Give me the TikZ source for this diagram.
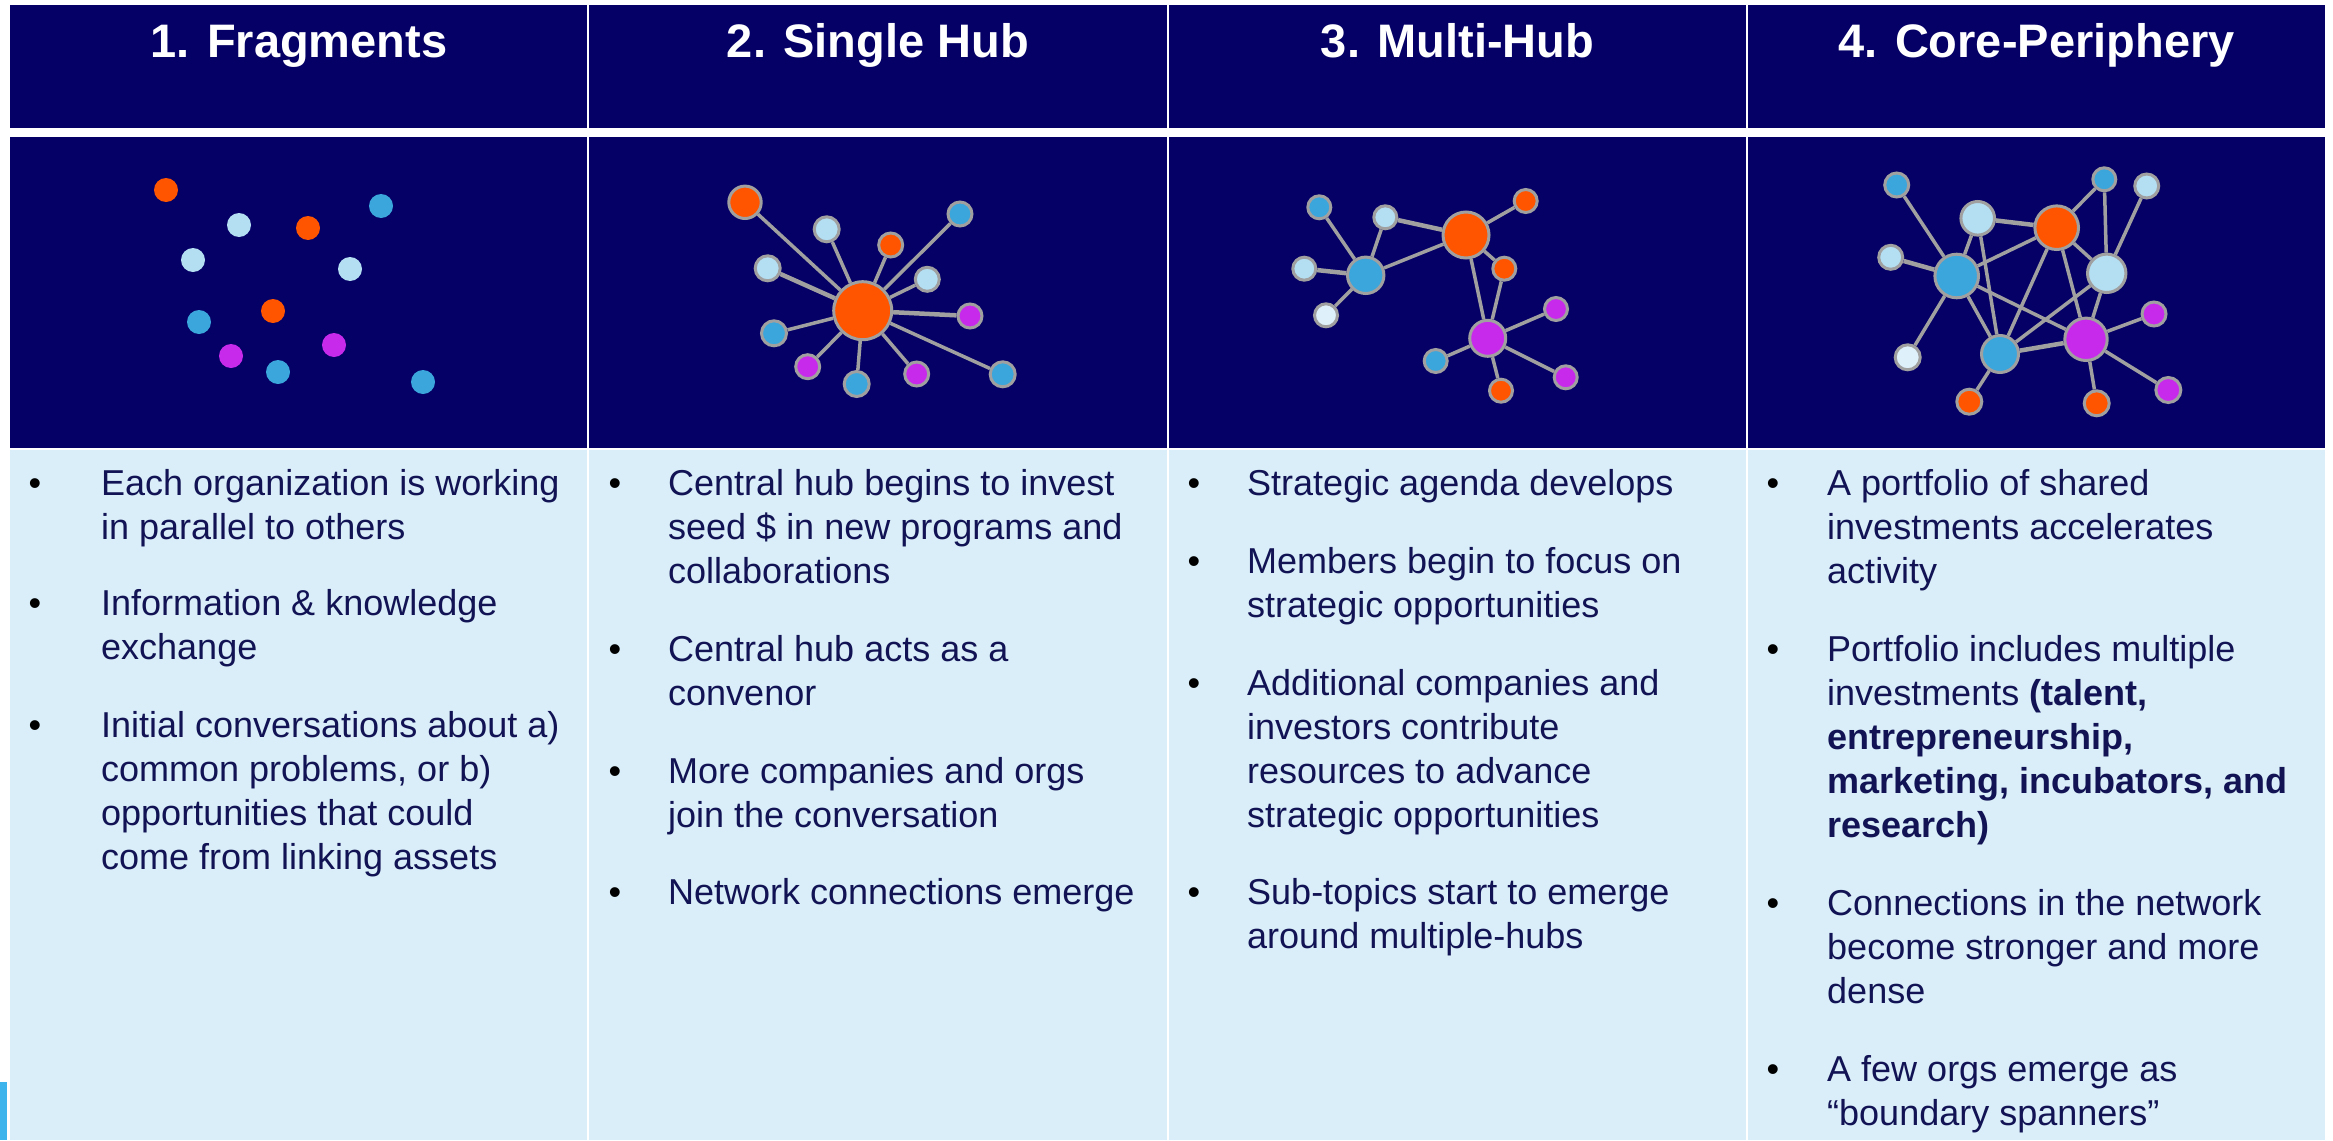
\documentclass[tikz,border=0pt]{standalone}
\usepackage{fontspec}
\setmainfont{Liberation Sans}
\definecolor{navy}{RGB}{5,0,102}
\definecolor{pale}{RGB}{217,238,248}
\definecolor{txt}{RGB}{17,19,84}
\definecolor{orng}{RGB}{255,85,0}
\definecolor{blu}{RGB}{58,166,220}
\definecolor{lblu}{RGB}{180,222,242}
\definecolor{mag}{RGB}{200,42,236}
\definecolor{wht}{RGB}{222,240,250}
\definecolor{gry}{RGB}{160,160,160}
\definecolor{cyanlogo}{RGB}{62,180,236}
\pgfdeclarelayer{back}
\pgfdeclarelayer{edges}
\pgfsetlayers{back,edges,main}
\newcommand\bpara[5]{%
  \node[bul] (#1b) at (#2,#4) {•};
  \foreach \bline [count=\k from 0] in {#5}{\node[body] (#1l\k) at (#3,{#4+44*\k}) {\bline};}%
}
\begin{document}
\begin{tikzpicture}[x=1pt,y=-1pt,
  head/.style={font=\fontsize{47}{54}\selectfont\bfseries, text=white, anchor=base, inner sep=0pt},
  body/.style={font=\fontsize{36}{44}\selectfont, text=txt, anchor=base west, inner sep=0pt},
  bul/.style={font=\fontsize{36}{44}\selectfont, text=black, anchor=base, inner sep=0pt},
  nd/.style={circle, draw=gry, line width=3pt, inner sep=0pt},
  dotnd/.style={circle, inner sep=0pt, minimum size=24},
  edge/.style={draw=gry, line width=3.5pt},
  thickedge/.style={draw=gry, line width=4.5pt}]
\useasboundingbox (0,0) rectangle (2333,1140);
\begin{pgfonlayer}{back}
  \fill[white] (0,0) rectangle (2333,1140);
  \foreach \xa/\xb in {10/587,589/1167,1169/1746,1748/2325}{
    \fill[navy] (\xa,5) rectangle (\xb,128);
    \fill[navy] (\xa,137) rectangle (\xb,448);
    \fill[pale] (\xa,450) rectangle (\xb,1140);
  }
  \fill[cyanlogo] (0,1082) rectangle (6.5,1140);
\end{pgfonlayer}

% headers
\node[head] (h1) at (299,58) {1. Fragments};
\node[head] (h2) at (878,58) {2. Single Hub};
\node[head] (h3) at (1457.5,58) {3. Multi-Hub};
\node[head] (h4) at (2036.5,58) {4. Core-Periphery};

% panel 1: fragments
\foreach \n/\c/\x/\y in {a1/orng/166/190, a2/lblu/239/225, a3/orng/308/228, a4/blu/381/206,
  a5/lblu/193/260, a6/lblu/350/269, a7/orng/273/311, a8/blu/199/322, a9/mag/334/345,
  a10/mag/231/356, a11/blu/278/372, a12/blu/423/382}
  \node[dotnd, fill=\c] (\n) at (\x,\y) {};

% panel 2: single hub
\foreach \n/\c/\x/\y/\r in {b0/orng/862.7/310.7/30.5, b1/orng/745/202.3/17.7, b2/lblu/826.7/229.3/14,
  b3/orng/890.7/245/13.5, b4/blu/960/214/13.5, b5/lblu/767.7/268.3/14, b6/lblu/927.3/279.3/13.5,
  b7/mag/970/316/13.5, b8/blu/774/333.3/14, b9/mag/807.7/366.7/13.5, b10/blu/856.7/384/14,
  b11/mag/916.7/374/13.5, b12/blu/1002.7/374.3/14}
  \node[nd, fill=\c, minimum size={2*\r-3}] (\n) at (\x,\y) {};
\begin{pgfonlayer}{edges}
  \foreach \b in {b1,b2,b3,b4,b6,b8,b9,b10,b11,b12}
    \draw[edge] (b0) -- (\b);
  \draw[thickedge] (b0) -- (b7);
  \draw[thickedge] (b0) -- (b5);
\end{pgfonlayer}

% panel 3: multi-hub
\foreach \n/\c/\x/\y/\r in {c1/blu/1319.3/207.3/13, c2/lblu/1385.3/217.3/13, c3/orng/1466/235/24.5,
  c4/orng/1525.7/201/13, c5/lblu/1304.3/268.7/13, c6/blu/1365.7/275.3/19.7, c7/orng/1504.3/268.7/13,
  c8/wht/1326/315.3/13, c9/mag/1556/309/13, c10/mag/1487.7/338.3/19.5, c11/blu/1435.7/361/13,
  c12/mag/1565.7/377.3/13, c13/orng/1501/390.7/13}
  \node[nd, fill=\c, minimum size={2*\r-3}] (\n) at (\x,\y) {};
\begin{pgfonlayer}{edges}
  \foreach \a/\b in {c6/c1, c6/c2, c6/c8, c6/c3, c3/c4, c3/c7, c3/c10, c7/c10,
    c10/c9, c10/c11, c10/c12, c10/c13}
    \draw[edge] (\a) -- (\b);
  \draw[thickedge] (c6) -- (c5);
  \draw[thickedge] (c2) -- (c3);
\end{pgfonlayer}

% panel 4: core-periphery
\foreach \n/\c/\x/\y/\r in {d1/blu/1896.7/185/13.5, d2/blu/2104.3/179.3/13, d3/lblu/2146.7/186/13.5,
  d4/lblu/1977.7/218.3/18.3, d5/orng/2056.7/227.7/23.3, d6/lblu/1890.7/257.3/13.5,
  d7/blu/1956.7/276/23.3, d8/lblu/2106.7/273.3/20.7, d9/mag/2154/314/13.5, d10/wht/1907.7/357.3/14,
  d11/blu/2000/354/20, d12/mag/2086/339.3/22.7, d13/orng/1969.3/401.7/14,
  d14/orng/2096.7/403.3/14, d15/mag/2168.3/390/14}
  \node[nd, fill=\c, minimum size={2*\r-3}] (\n) at (\x,\y) {};
\begin{pgfonlayer}{edges}
  \foreach \a/\b in {d1/d7, d7/d4, d4/d11, d7/d5, d7/d12, d7/d11, d7/d10, d5/d2, d5/d8,
    d5/d11, d5/d12, d2/d8, d3/d8, d8/d11, d8/d12, d11/d13, d12/d9, d12/d14, d12/d15}
    \draw[edge] (\a) -- (\b);
  \draw[thickedge] (d6) -- (d7);
  \draw[thickedge] (d4) -- (d5);
  \draw[thickedge] (d11) -- (d12);
\end{pgfonlayer}

% column 1 text
\bpara{t1a}{35}{101}{495}{Each organization is working, in parallel to others}
\bpara{t1b}{35}{101}{615}{Information \& knowledge, exchange}
\bpara{t1c}{35}{101}{737}{Initial conversations about a), {common problems, or b)}, opportunities that could, come from linking assets}
% column 2 text
\bpara{t2a}{615}{668}{495}{Central hub begins to invest, seed \$ in new programs and, collaborations}
\bpara{t2b}{615}{668}{661}{Central hub acts as a, convenor}
\bpara{t2c}{615}{668}{783}{More companies and orgs, join the conversation}
\bpara{t2d}{615}{668}{904}{Network connections emerge}
% column 3 text
\bpara{t3a}{1194}{1247}{495}{Strategic agenda develops}
\bpara{t3b}{1194}{1247}{573}{Members begin to focus on, strategic opportunities}
\bpara{t3c}{1194}{1247}{695}{Additional companies and, investors contribute, resources to advance, strategic opportunities}
\bpara{t3d}{1194}{1247}{904}{Sub-topics start to emerge, around multiple-hubs}
% column 4 text
\bpara{t4a}{1773}{1827}{495}{A portfolio of shared, investments accelerates, activity}
\bpara{t4b}{1773}{1827}{661}{Portfolio includes multiple, {investments \textbf{(talent,}}, {\textbf{entrepreneurship,}}, {\textbf{marketing, incubators, and}}, {\textbf{research)}}}
\bpara{t4c}{1773}{1827}{915}{Connections in the network, become stronger and more, dense}
\bpara{t4d}{1773}{1827}{1081}{A few orgs emerge as, “boundary spanners”}
\end{tikzpicture}
\end{document}
